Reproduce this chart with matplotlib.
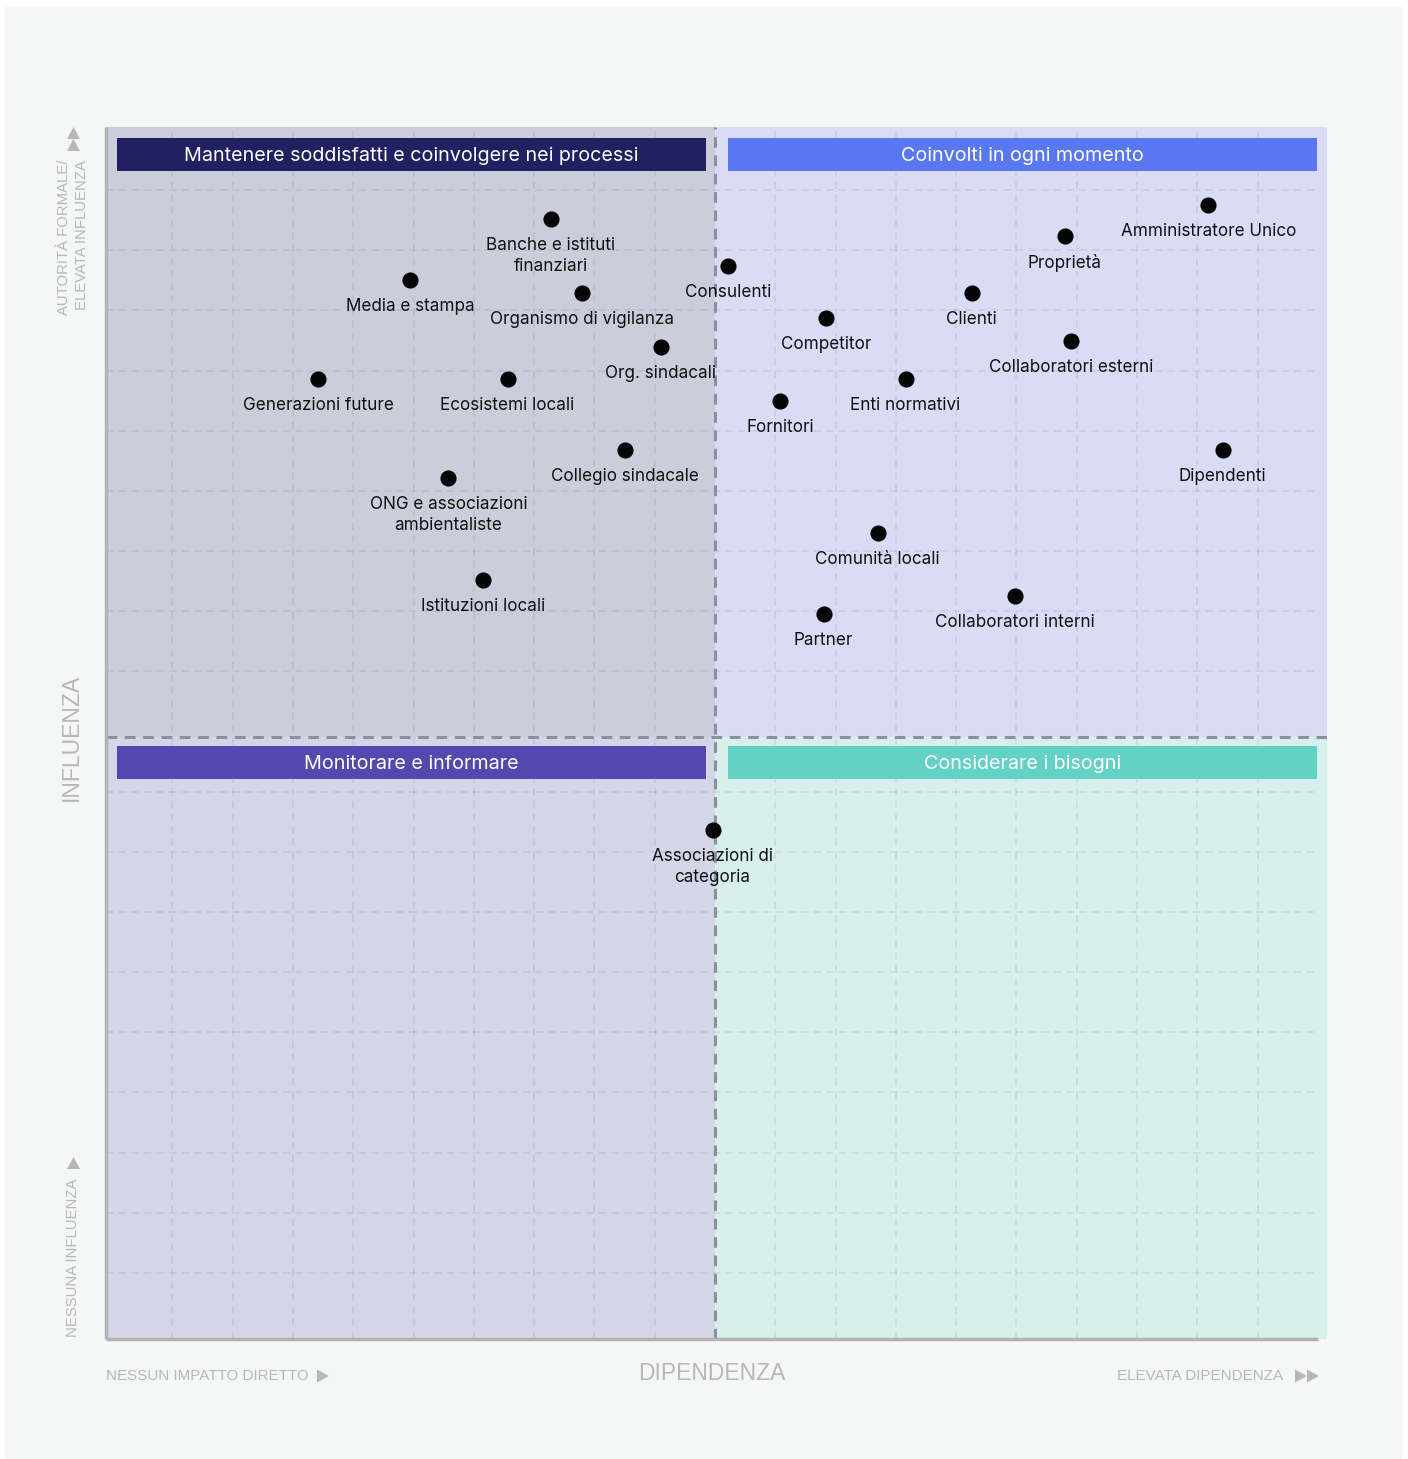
import matplotlib.pyplot as plt
from matplotlib.patches import Rectangle, Polygon
from matplotlib.transforms import IdentityTransform
import numpy as np

# stakeholder map: dipendenza (x) vs influenza (y), scale 0-10
names = ["Banche e istituti\nfinanziari", "Media e stampa", "Organismo di vigilanza",
         "Consulenti", "Competitor", "Proprietà", "Amministratore Unico", "Clienti",
         "Collaboratori esterni", "Org. sindacali", "Generazioni future",
         "Ecosistemi locali", "Enti normativi", "Fornitori", "Collegio sindacale",
         "Dipendenti", "ONG e associazioni\nambientaliste", "Comunità locali",
         "Istituzioni locali", "Collaboratori interni", "Partner",
         "Associazioni di\ncategoria"]
dipendenza = [3.64, 2.47, 3.90, 5.11, 5.92, 7.90, 9.09, 7.13, 7.95, 4.55, 1.71,
              3.28, 6.58, 5.54, 4.25, 9.21, 2.79, 6.35, 3.08, 7.49, 5.90, 4.98]
influenza = [9.26, 8.75, 8.645, 8.87, 8.44, 9.12, 9.38, 8.645, 8.25, 8.20, 7.93,
             7.93, 7.93, 7.75, 7.34, 7.34, 7.11, 6.65, 6.26, 6.13, 5.98, 4.18]

quadrant_titles = ["Mantenere soddisfatti e coinvolgere nei processi",
                   "Coinvolti in ogni momento",
                   "Monitorare e informare",
                   "Considerare i bisogni"]

W, H = 1408, 1459
fig = plt.figure(figsize=(W / 100, H / 100), dpi=100, facecolor="white")
fig.patches.append(Rectangle((5 / W, 1 - 1458 / H), 1396 / W, 1451 / H,
                             transform=fig.transFigure, color="#f5f7f6", zorder=-10))

ax = fig.add_axes([106 / W, 1 - 1339 / H, 1221 / W, 1212 / H])
XMIN, XMAX, YMIN, YMAX = -0.05, 10.075, -0.05, 10.025
MX, MY = 5.0, 4.955
ax.set_xlim(XMIN, XMAX)
ax.set_ylim(YMIN, YMAX)
ax.axis("off")

# quadrant backgrounds
bgs = [(XMIN, MY, MX - XMIN, YMAX - MY, "#cbcdda"),
       (MX, MY, XMAX - MX, YMAX - MY, "#d8dcf5"),
       (XMIN, YMIN, MX - XMIN, MY - YMIN, "#d5d5e8"),
       (MX, YMIN, XMAX - MX, MY - YMIN, "#d7f0ec")]
for x0, y0, w, h, c in bgs:
    ax.add_patch(Rectangle((x0, y0), w, h, color=c, zorder=0, lw=0))

# grid
gl = np.arange(0.5, 10, 0.5)
gl = gl[gl != 5.0]
ax.vlines(gl, YMIN, YMAX, colors=(0.45, 0.45, 0.6, 0.15), lw=1.3,
          linestyles=(0, (4, 3)), zorder=1)
ax.hlines(gl, XMIN, 10, colors=(0.45, 0.45, 0.6, 0.15), lw=1.3,
          linestyles=(0, (4, 3)), zorder=1)

# midlines
ax.axvline(MX, color="#8e8ea2", lw=2.2, ls=(0, (3.5, 2.5)), zorder=2)
ax.axhline(MY, color="#8e8ea2", lw=2.2, ls=(0, (3.5, 2.5)), zorder=2)

# axis lines
ax.plot([XMIN, XMIN], [YMIN, YMAX], color="#b3b3b3", lw=2.5, zorder=3,
        solid_capstyle="butt", clip_on=False)
ax.plot([XMIN, 10.0], [YMIN, YMIN], color="#b3b3b3", lw=2.5, zorder=3,
        solid_capstyle="butt", clip_on=False)

# headers
hdr_colors = ["#212060", "#5877f0", "#5348b0", "#63d2c4"]
hdr = [(0.04, 9.66), (5.11, 9.66), (0.04, 4.605), (5.11, 4.605)]
for (x0, y0), c, t in zip(hdr, hdr_colors, quadrant_titles):
    ax.add_patch(Rectangle((x0, y0), 4.885, 0.275, color=c, zorder=4, lw=0))
    ax.text(x0 + 4.885 / 2, y0 + 0.125, t, ha="center", va="center",
            color="white", fontsize=14.2, family="Inter", zorder=5)

# points
ax.scatter(dipendenza, influenza, s=135, color="#050505", zorder=6, lw=0)
for n, x, y in zip(names, dipendenza, influenza):
    ax.annotate(n, (x, y), xytext=(0, -13), textcoords="offset points",
                ha="center", va="top", fontsize=12.3, family="Inter",
                color="#111111", linespacing=1.3, zorder=7)

# outer labels
grey = "#b7b7b7"
gf = ["Liberation Sans", "DejaVu Sans"]
fig.text(71 / W, 1 - 737 / H, "INFLUENZA", rotation=90, ha="center", va="center",
         fontsize=16.5, color=grey, family=gf)
fig.text(712 / W, 1 - 1374 / H, "DIPENDENZA", ha="center", va="center",
         fontsize=16.5, color=grey, family=gf)
fig.text(73 / W, 1 - 160 / H, "AUTORITÀ FORMALE/\nELEVATA INFLUENZA", rotation=90,
         ha="center", va="top", multialignment="right", fontsize=10.7,
         color=grey, family=gf, linespacing=1.35)
fig.text(73 / W, 1 - 1258 / H, "NESSUNA INFLUENZA", rotation=90, ha="center",
         va="center", fontsize=10.7, color=grey, family=gf)
fig.text(106 / W, 1 - 1376 / H, "NESSUN IMPATTO DIRETTO", ha="left", va="center",
         fontsize=10.9, color=grey, family=gf)
fig.text(1283 / W, 1 - 1376 / H, "ELEVATA DIPENDENZA", ha="right", va="center",
         fontsize=10.9, color=grey, family=gf)

# small arrow triangles (pixel coords, top-left origin)
def tri_up(cx, top, w=13, h=12):
    return [(cx - w / 2, H - (top + h)), (cx + w / 2, H - (top + h)), (cx, H - top)]

def tri_right(left, cy, w=12, h=13):
    return [(left, H - (cy - h / 2)), (left, H - (cy + h / 2)), (left + w, H - cy)]

tris = [tri_up(73.5, 127), tri_up(73.5, 139), tri_up(73.5, 1157),
        tri_right(317, 1376), tri_right(1295, 1376), tri_right(1307, 1376)]
for pts in tris:
    fig.patches.append(Polygon(pts, closed=True, color=grey, lw=0,
                               transform=IdentityTransform()))

fig.savefig("out.png", dpi=100, facecolor="white")
